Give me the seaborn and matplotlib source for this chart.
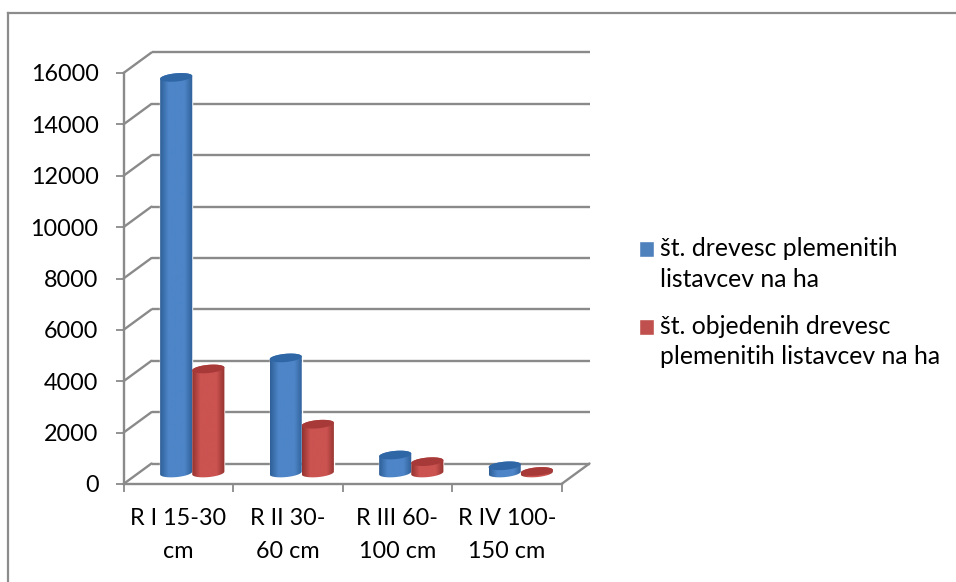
import matplotlib
matplotlib.use("Agg")
import matplotlib.pyplot as plt
import numpy as np
import pandas as pd
import seaborn as sns
from matplotlib.colors import LinearSegmentedColormap
from matplotlib.patches import ConnectionPatch, PathPatch, Polygon
from matplotlib.path import Path

categories = ["R I 15-30\ncm", "R II 30-\n60 cm", "R III 60-\n100 cm", "R IV 100-\n150 cm"]
series_names = ["št. drevesc plemenitih\nlistavcev na ha", "št. objedenih drevesc\nplemenitih listavcev na ha"]
trees_total = [15400, 4480, 700, 280]
trees_browsed = [4050, 1900, 440, 60]
y_ticks = [0, 2000, 4000, 6000, 8000, 10000, 12000, 14000, 16000]

W, H = 956, 582
GRAY = "#8a8a8a"
LEFT, RIGHT, TOP, BOTTOM = 123.5, 561.5, 73, 484
FONT = 16.8
LEGEND_FONT = 17.8


def box(x0, y_top, x1, y_bottom, dx=0, dy=0):
    return [(x0 + dx) / W, (H - y_bottom + dy) / H, (x1 - x0) / W, (y_bottom - y_top) / H]


def add_cylinder(ax, rect, edge, mid, cap, z):
    x, w, h = rect.get_x(), rect.get_width(), rect.get_height()
    ry, tilt = 160, 55
    t = np.linspace(np.pi, 2 * np.pi, 40)
    xs = x + w / 2 + w / 2 * np.cos(t)
    bottom = np.column_stack([xs, ry * np.sin(t) + tilt * np.cos(t)])
    t2 = np.linspace(0, np.pi, 40)
    xs2 = x + w / 2 + w / 2 * np.cos(t2)
    top = np.column_stack([xs2, h + ry * np.sin(t2) + tilt * np.cos(t2)])
    outline = np.vstack([bottom, top])
    cmap = LinearSegmentedColormap.from_list("cyl", [edge, mid, mid, mid, edge], N=64)
    im = ax.imshow(np.linspace(0, 1, 64)[None, :], cmap=cmap, aspect="auto",
                   extent=(x, x + w, -ry - tilt, h + ry + tilt), zorder=z)
    # the bottom of the cylinder hangs below the axes, so only the path may clip it
    im.set_clip_box(ax.figure.bbox)
    im.set_clip_path(PathPatch(Path(outline, closed=True), transform=ax.transData))
    t3 = np.linspace(0, 2 * np.pi, 60)
    cap_xy = np.column_stack([x + w / 2 + w / 2 * np.cos(t3),
                              h + ry * np.sin(t3) + tilt * np.cos(t3)])
    ax.add_patch(Polygon(cap_xy, closed=True, facecolor=cap, edgecolor="none",
                         zorder=z + 0.5, clip_on=False))


sns.set_theme(style="white")
plt.rcParams["font.family"] = ["Lato", "DejaVu Sans"]

df = pd.DataFrame({
    "category": categories * 2,
    "series": [series_names[0]] * 4 + [series_names[1]] * 4,
    "value": trees_total + trees_browsed,
})

fig = plt.figure(figsize=(W / 100, H / 100), dpi=100, facecolor="white")

# outer chart frame, only left and top are inside the picture
ax_frame = fig.add_axes(box(7.5, 13, W + 5, H + 5))
ax_frame.set_xticks([])
ax_frame.set_yticks([])
sns.despine(ax=ax_frame, top=False, right=True, bottom=True)
for side in ["left", "top"]:
    ax_frame.spines[side].set_color("#8c8c8c")
    ax_frame.spines[side].set_linewidth(1.6)

# back wall
ax_back = fig.add_axes(box(LEFT, TOP, RIGHT, BOTTOM, 28, 20.5), facecolor="none")
ax_back.set_xlim(-0.5, 3.5)
ax_back.set_ylim(0, 16000)
ax_back.hlines(y_ticks, -0.5, 3.5, color=GRAY, lw=1.7, clip_on=False)
ax_back.set_xticks([])
ax_back.set_yticks([])
sns.despine(ax=ax_back, left=True, bottom=True)

# front axes with the tick labels
ax = fig.add_axes(box(LEFT, TOP, RIGHT, BOTTOM), facecolor="none")
ax.set_xlim(-0.5, 3.5)
ax.set_ylim(0, 16000)
ax.set_yticks(y_ticks)
ax.set_xticks([-0.5, 0.5, 1.5, 2.5, 3.5])
ax.set_xticklabels([])
ax.set_xticks([0, 1, 2, 3], labels=categories, minor=True)
ax.tick_params(axis="y", left=True, length=6, width=1.3, color=GRAY, labelsize=FONT, labelcolor="black", pad=12)
ax.tick_params(axis="x", which="major", bottom=True, length=6, width=1.3, color=GRAY)
ax.tick_params(axis="x", which="minor", bottom=False, length=0, labelsize=FONT, labelcolor="black", pad=17)
for lab in ax.get_xticklabels(minor=True):
    lab.set_linespacing(1.75)
sns.despine(ax=ax)
for side in ["left", "bottom"]:
    ax.spines[side].set_color(GRAY)
    ax.spines[side].set_linewidth(1.7)

# bars sit halfway into the depth of the chart
ax_bars = fig.add_axes(box(LEFT, TOP, RIGHT, BOTTOM, 14, 11), facecolor="none")
sns.barplot(data=df, x="category", y="value", hue="series", order=categories,
            palette=["#4f81bd", "#c0504d"], width=0.587, gap=0, ax=ax_bars, saturation=1)
handles, labels = ax_bars.get_legend_handles_labels()
ax_bars.get_legend().remove()

styles = [("#2f6098", "#4d85c8", "#2f67a6"), ("#94322f", "#cb5350", "#a73a38")]
for i, container in enumerate(ax_bars.containers):
    for rect in container:
        rect.set_facecolor("none")
        add_cylinder(ax_bars, rect, *styles[i], z=3 + i)
ax_bars.set_xlim(-0.5, 3.5)
ax_bars.set_ylim(0, 16000)
ax_bars.axis("off")
ax_bars.set_zorder(5)

# floor and side wall diagonals
for v in y_ticks:
    fig.add_artist(ConnectionPatch((-0.5, v), (-0.5, v), "data", "data", axesA=ax, axesB=ax_back,
                                   color=GRAY, lw=1.7))
fig.add_artist(ConnectionPatch((3.5, 0), (3.5, 0), "data", "data", axesA=ax, axesB=ax_back,
                               color=GRAY, lw=1.7))

leg = fig.legend(handles, labels, loc="upper left", bbox_to_anchor=(639 / W, 1 - 237 / H),
                 frameon=False, fontsize=LEGEND_FONT, handlelength=0.6, handleheight=0.6,
                 handletextpad=0.25, labelspacing=0.97, borderpad=0, borderaxespad=0, labelcolor="black")
for t in leg.get_texts():
    t.set_linespacing(1.4)
# excel puts the key beside the first line of the label
for h in leg.legend_handles:
    h.set_y(h.get_y() + 11)

fig.savefig("out.png", dpi=100)
